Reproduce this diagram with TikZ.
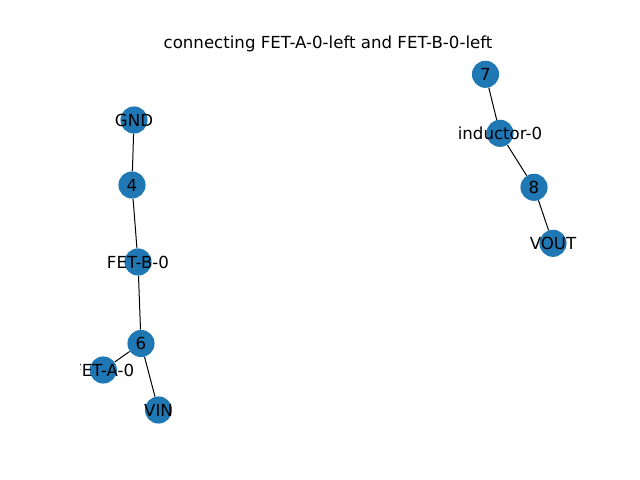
\documentclass[tikz,border=0pt]{standalone}
\usepackage{fontspec}
\setmainfont{DejaVu Sans}
\definecolor{nodeblue}{HTML}{1F77B4}
\begin{document}
\begin{tikzpicture}[x=0.01in,y=-0.01in,
vertex/.style={circle,fill=nodeblue,draw=none,inner sep=0pt,minimum size=19.6pt},
edge/.style={draw=black,line width=0.72pt},
lbl/.style={font=\fontsize{12}{14}\selectfont,inner sep=0pt}]
\useasboundingbox (0,0) rectangle (640,480);
\node[lbl] (title) at (328,44) {connecting FET-A-0-left and FET-B-0-left};
\begin{scope}
\clip (80,57.6) rectangle (576,427.2);
% left component
\node[vertex] (GND) at (134,120) {};
\node[vertex] (n4) at (132,185) {};
\node[vertex] (FETB) at (138,262) {};
\node[vertex] (n6) at (141,343.5) {};
\node[vertex] (FETA) at (103.3,370) {};
\node[vertex] (VIN) at (158.5,410) {};
% right component
\node[vertex] (n7) at (485.5,74.3) {};
\node[vertex] (ind) at (500,133.3) {};
\node[vertex] (n8) at (534,187.3) {};
\node[vertex] (VOUT) at (553,243.3) {};
\draw[edge] (GND) -- (n4);
\draw[edge] (n4) -- (FETB);
\draw[edge] (FETB) -- (n6);
\draw[edge] (n6) -- (FETA);
\draw[edge] (n6) -- (VIN);
\draw[edge] (n7) -- (ind);
\draw[edge] (ind) -- (n8);
\draw[edge] (n8) -- (VOUT);
% labels
\node[lbl] (lGND) at (GND) {GND};
\node[lbl] (l4) at (n4) {4};
\node[lbl] (lFETB) at (FETB) {FET-B-0};
\node[lbl] (l6) at (n6) {6};
\node[lbl] (lFETA) at (FETA) {FET-A-0};
\node[lbl] (lVIN) at (VIN) {VIN};
\node[lbl] (l7) at (n7) {7};
\node[lbl] (lind) at (ind) {inductor-0};
\node[lbl] (l8) at (n8) {8};
\node[lbl] (lVOUT) at (VOUT) {VOUT};
\end{scope}
\end{tikzpicture}
\end{document}
